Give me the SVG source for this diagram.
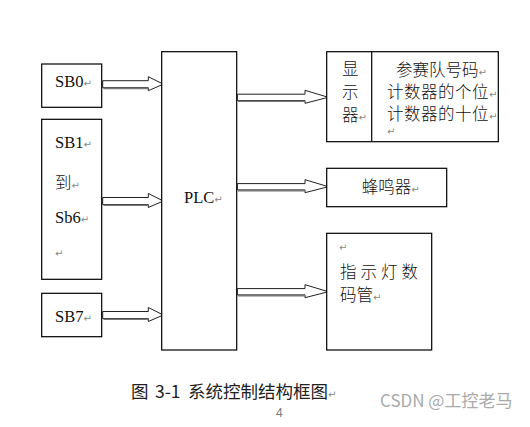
<svg xmlns="http://www.w3.org/2000/svg" width="530" height="427" viewBox="0 0 530 427">
<style>
.box{fill:#fff;stroke:#000;stroke-width:1.2}
.arr{fill:#fff;stroke:#222;stroke-width:1}
.sh{stroke:#777;stroke-width:1.6;fill:none}
.t{font-family:"Liberation Serif","Noto Sans CJK SC",serif;font-size:16.5px;fill:#111}
.k{font-weight:300}
.c{font-family:"Noto Sans CJK SC","Noto Sans",sans-serif;font-size:17.5px;fill:#222}
.pm{font-family:"DejaVu Sans",sans-serif;font-size:10px;fill:#888;font-weight:400}
</style>
<rect width="530" height="427" fill="#fff"/>
<g id="connectors">
<path class="arr" d="M102.7,80.7 H148.3 V76.7 L163.3,84.2 L148.3,90.7 V87.7 H102.7 Z"/>
<path class="sh" d="M103.5,88.5 H148.3"/>
<path class="arr" d="M102.7,197.5 H148.3 V193.5 L163.3,201 L148.3,207.5 V204.5 H102.7 Z"/>
<path class="sh" d="M103.5,205.3 H148.3"/>
<path class="arr" d="M102.7,311.5 H148.3 V307.5 L163.3,315 L148.3,321.5 V318.5 H102.7 Z"/>
<path class="sh" d="M103.5,319.3 H148.3"/>
<path class="arr" d="M237.3,94.2 H305 V90.3 L328.3,97.3 L305,103.3 V100.5 H237.3 Z"/>
<path class="sh" d="M238,101.3 H305"/>
<path class="arr" d="M237.3,183.6 H305 V179.7 L328.3,186.7 L305,192.7 V189.9 H237.3 Z"/>
<path class="sh" d="M238,190.7 H305"/>
<path class="arr" d="M237.3,288.6 H305 V284.7 L328.3,291.7 L305,297.7 V294.9 H237.3 Z"/>
<path class="sh" d="M238,295.7 H305"/>
</g>
<g id="sb0">
<rect class="box" x="41.7" y="64" width="60" height="43.3"/>
<text class="t" x="55" y="87">SB0<tspan class="pm">↵</tspan></text>
</g>
<g id="sb1-6">
<rect class="box" x="41.7" y="119.3" width="60" height="160"/>
<text class="t" x="55" y="147.5">SB1<tspan class="pm">↵</tspan></text>
<text class="t k" x="55" y="189">到<tspan class="pm">↵</tspan></text>
<text class="t" x="55" y="223">Sb6<tspan class="pm">↵</tspan></text>
<text class="pm" x="55" y="257">↵</text>
</g>
<g id="sb7">
<rect class="box" x="41.7" y="293.3" width="60" height="43.4"/>
<text class="t" x="55" y="322">SB7<tspan class="pm">↵</tspan></text>
</g>
<g id="plc">
<rect class="box" x="161.7" y="51.7" width="75" height="298.3"/>
<text class="t" x="184" y="203">PLC<tspan class="pm">↵</tspan></text>
</g>
<g id="display">
<rect class="box" x="326.7" y="51.7" width="171.6" height="90"/>
<line x1="371.7" y1="51.7" x2="371.7" y2="141.7" stroke="#000" stroke-width="1.2"/>
<text class="t k" x="342" y="75">显</text>
<text class="t k" x="342" y="98">示</text>
<text class="t k" x="342" y="121">器<tspan class="pm">↵</tspan></text>
<text class="t k" x="396" y="76">参赛队号码<tspan class="pm">↵</tspan></text>
<text class="t k" x="387" y="98" letter-spacing="0.5">计数器的个位<tspan class="pm">↵</tspan></text>
<text class="t k" x="387" y="120" letter-spacing="0.5">计数器的十位<tspan class="pm">↵</tspan></text>
<text class="pm" x="387" y="135" font-size="7">↵</text>
</g>
<g id="buzzer">
<rect class="box" x="326.7" y="168.3" width="120" height="38.4"/>
<text class="t k" x="361.7" y="193">蜂鸣器<tspan class="pm">↵</tspan></text>
</g>
<g id="indicator">
<rect class="box" x="326.7" y="233.3" width="105" height="116.7"/>
<text class="pm" x="339" y="251">↵</text>
<text class="t k" x="340" y="278" letter-spacing="4">指示灯数</text>
<text class="t k" x="340" y="301">码管<tspan class="pm">↵</tspan></text>
</g>
<g id="caption">
<text class="c" x="131" y="398">图</text>
<text class="c" x="155" y="398">3-1</text>
<text class="c" x="188" y="398">系统控制结构框图<tspan class="pm" font-size="11">↵</tspan></text>
<text x="276" y="417" font-family="Liberation Sans,sans-serif" font-size="12" fill="#777">4</text>
<text x="380" y="407" font-family="Noto Sans CJK SC,Noto Sans,sans-serif" font-size="17" fill="#aaa">CSDN @工控老马</text>
</g>
</svg>
